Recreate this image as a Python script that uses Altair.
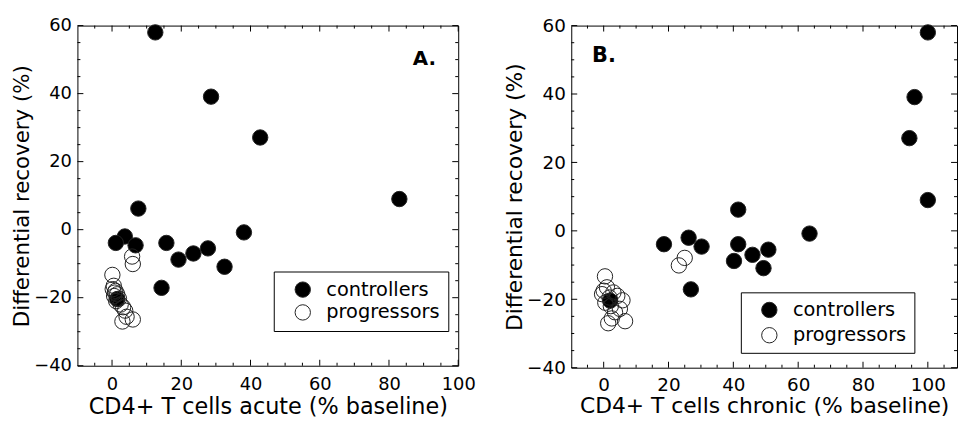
import altair as alt
import pandas as pd

groups = ["controllers", "progressors"]

ctrl_recovery = [58.0, 39.1, 27.1, 9.0, 6.2, -0.8, -2.0, -3.9, -3.9, -4.6, -5.5, -7.0, -8.8, -10.9, -17.1, -20.4]
ctrl_acute = [12.5, 28.6, 42.8, 83.0, 7.6, 38.1, 3.7, 1.1, 15.7, 6.8, 27.7, 23.5, 19.2, 32.5, 14.3, 1.5]
ctrl_chronic = [100.0, 95.9, 94.3, 100.0, 41.5, 63.5, 26.2, 18.6, 41.5, 30.2, 50.8, 45.9, 40.2, 49.3, 26.9, 2.0]

prog_recovery = [-7.9, -10.1, -13.3, -16.5, -17.5, -18.0, -18.5, -19.0, -19.5, -20.3, -21.0, -22.0, -22.8, -23.8, -25.6, -26.4, -27.0]
prog_acute = [5.8, 6.0, 0.1, 0.5, 0.2, 1.0, 0.8, 1.5, 0.6, 2.0, 1.2, 2.5, 3.2, 3.8, 4.2, 6.0, 3.0]
prog_chronic = [25.0, 23.2, 0.4, 1.0, 0.0, 3.0, -0.5, 4.2, 1.8, 5.8, 0.5, 2.2, 5.0, 3.5, 2.5, 6.6, 1.4]

x_major_ticks = [0, 20, 40, 60, 80, 100]
x_minor_ticks = [-5, 5, 10, 15, 25, 30, 35, 45, 50, 55, 65, 70, 75, 85, 90, 95, 105]
y_major_ticks = [-40, -20, 0, 20, 40, 60]
y_minor_ticks = [-35, -30, -25, -15, -10, -5, 5, 10, 15, 25, 30, 35, 45, 50, 55]

y_title = "Differential recovery (%)"
x_title_a = "CD4+ T cells acute (% baseline)"
x_title_b = "CD4+ T cells chronic (% baseline)"

df = pd.DataFrame({
    "group": [groups[0]] * len(ctrl_recovery) + [groups[1]] * len(prog_recovery),
    "recovery": ctrl_recovery + prog_recovery,
    "acute": ctrl_acute + prog_acute,
    "chronic": ctrl_chronic + prog_chronic,
})

FONT = "DejaVu Sans"
Y_DOMAIN = [-40, 60]


def tick_layer(values, scale, side, w, h, length):
    d = pd.DataFrame({"v": values})
    c = alt.Chart(d).mark_rule(color="black", strokeWidth=1)
    if side in ("bottom", "top"):
        pos = alt.X("v:Q", scale=scale, axis=None)
        if side == "bottom":
            return c.encode(x=pos, y=alt.value(h), y2=alt.value(h - length))
        return c.encode(x=pos, y=alt.value(0), y2=alt.value(length))
    pos = alt.Y("v:Q", scale=scale, axis=None)
    if side == "left":
        return c.encode(y=pos, x=alt.value(0), x2=alt.value(length))
    return c.encode(y=pos, x=alt.value(w), x2=alt.value(w - length))


def make_panel(xfield, xtitle, xdomain, w, h, fs, tag, tag_x, tag_y,
               leg_x, leg_y, leg_pad, leg_row, x_label_pad, x_title_pad):
    xs = alt.Scale(domain=xdomain, nice=False, zero=False)
    ys = alt.Scale(domain=Y_DOMAIN, nice=False, zero=False)

    legend = alt.Legend(
        title=None, orient="none", legendX=leg_x, legendY=leg_y,
        strokeColor="black", fillColor="white", padding=leg_pad,
        symbolType="circle", symbolSize=240, symbolStrokeColor="#222222",
        symbolStrokeWidth=1, symbolOffset=11, labelOffset=14,
        labelFont=FONT, labelFontSize=fs["legend"], labelColor="black",
        rowPadding=leg_row, cornerRadius=0, labelLimit=300,
    )

    x_axis = alt.Axis(
        orient="bottom", values=x_major_ticks, ticks=False, tickSize=0,
        domain=False, grid=False, labelFont=FONT, labelFontSize=fs["tick"],
        labelColor="black", labelPadding=x_label_pad, labelFlush=False,
        labelOverlap=False, title=xtitle, titleFont=FONT,
        titleFontSize=fs["title"], titleFontWeight="normal",
        titleColor="black", titlePadding=x_title_pad,
    )
    y_axis = alt.Axis(
        orient="left", values=y_major_ticks, ticks=False, tickSize=0,
        domain=False, grid=False, labelFont=FONT, labelFontSize=fs["tick"],
        labelColor="black", labelPadding=6, labelOverlap=False,
        title=y_title, titleFont=FONT, titleFontSize=fs["ytitle"],
        titleFontWeight="normal", titleColor="black", titlePadding=0,
    )

    pts = alt.Chart(df).mark_point(
        shape="circle", filled=True, size=240, stroke="#222222",
        strokeWidth=1, opacity=1,
    ).encode(
        x=alt.X(f"{xfield}:Q", scale=xs, axis=x_axis),
        y=alt.Y("recovery:Q", scale=ys, axis=y_axis),
        fill=alt.Fill("group:N",
                      scale=alt.Scale(domain=groups, range=["black", "transparent"]),
                      legend=legend),
    )

    lo, hi = xdomain
    xmin = [v for v in x_minor_ticks if lo <= v <= hi]
    xmaj = [v for v in x_major_ticks if lo <= v <= hi]
    ticks = [
        tick_layer(xmaj, xs, "bottom", w, h, 6),
        tick_layer(xmaj, xs, "top", w, h, 6),
        tick_layer(xmin, xs, "bottom", w, h, 3),
        tick_layer(xmin, xs, "top", w, h, 3),
        tick_layer(y_major_ticks, ys, "left", w, h, 6),
        tick_layer(y_major_ticks, ys, "right", w, h, 6),
        tick_layer(y_minor_ticks, ys, "left", w, h, 3),
        tick_layer(y_minor_ticks, ys, "right", w, h, 3),
    ]

    txt = alt.Chart(pd.DataFrame({"tag": [tag]})).mark_text(
        font=FONT, fontSize=fs["tag"], fontWeight="bold", color="black",
        align="center", baseline="middle",
    ).encode(text="tag:N", x=alt.value(tag_x), y=alt.value(tag_y))

    layers = [pts] + ticks + [txt]
    return alt.layer(*layers).resolve_axis(
        x="independent", y="independent"
    ).properties(width=w, height=h)


fs_a = {"tick": 18, "title": 22.5, "ytitle": 21.5, "legend": 19.5, "tag": 20}
fs_b = {"tick": 18.5, "title": 22, "ytitle": 22, "legend": 19.5, "tag": 21}

panel_a = make_panel("acute", x_title_a, [-10, 100], 384, 343, fs_a,
                     "A.", 350, 34, 198, 248, 8.5, 2, 10, 2)
panel_b = make_panel("chronic", x_title_b, [-10, 109], 389, 345, fs_b,
                     "B.", 33, 31, 171, 269, 8, 4.5, 8, 2)

chart = alt.hconcat(panel_a, panel_b, spacing=27).resolve_scale(
    fill="independent"
).resolve_legend(
    fill="independent"
).configure_view(
    stroke="black", strokeWidth=1
).properties(
    autosize=alt.AutoSizeParams(type="none"),
    padding={"left": 70, "top": 16, "right": 889, "bottom": 396},
    background="white",
)

chart.save("out.html", embed_options={"renderer": "svg", "actions": False})
